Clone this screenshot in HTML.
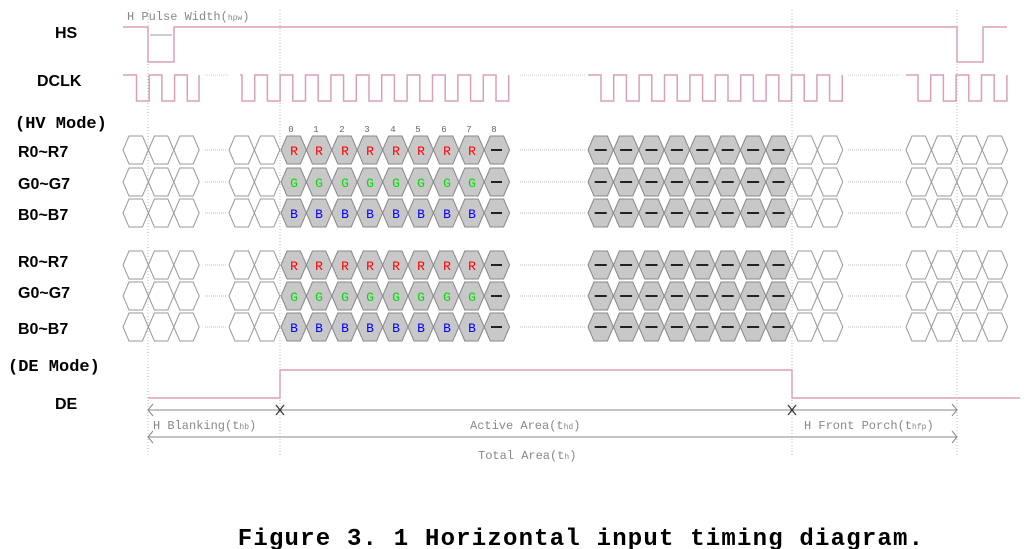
<!DOCTYPE html>
<html><head><meta charset="utf-8"><style>
body{margin:0;background:#fff}
svg{display:block}
.lb{font-family:"Liberation Sans",sans-serif;font-weight:bold;font-size:16px;fill:#000}
.md{font-family:"Liberation Mono",monospace;font-weight:bold;font-size:17px;fill:#000}
.sm{font-family:"Liberation Mono",monospace;font-size:12px;fill:#888}
.r{font-family:"Liberation Mono",monospace;font-size:13px;fill:#f00;text-anchor:middle}
.g{font-family:"Liberation Mono",monospace;font-size:13px;fill:#0d0;text-anchor:middle}
.b{font-family:"Liberation Mono",monospace;font-size:13px;fill:#00f;text-anchor:middle}
.n{font-family:"Liberation Mono",monospace;font-size:9px;fill:#666;text-anchor:middle}
</style></head><body>
<svg id="s" width="1030" height="549" viewBox="0 0 1030 549" xmlns="http://www.w3.org/2000/svg">
<g id="shapes"></g>
<text class="lb" x="55" y="38">HS</text>
<text class="lb" x="37" y="86">DCLK</text>
<text class="md" x="15" y="128">(HV Mode)</text>
<text class="lb" x="18" y="157">R0~R7</text>
<text class="lb" x="18" y="189">G0~G7</text>
<text class="lb" x="18" y="220">B0~B7</text>
<text class="lb" x="18" y="267">R0~R7</text>
<text class="lb" x="18" y="298">G0~G7</text>
<text class="lb" x="18" y="334">B0~B7</text>
<text class="md" x="8" y="371">(DE Mode)</text>
<text class="lb" x="55" y="409">DE</text>
<text class="sm" x="127" y="20" font-size="11">H Pulse Width(<tspan font-size="8">hpw</tspan>)</text>
<g>
<text class="n" x="291" y="132">0</text><text class="n" x="316" y="132">1</text><text class="n" x="342" y="132">2</text><text class="n" x="367" y="132">3</text><text class="n" x="393" y="132">4</text><text class="n" x="418" y="132">5</text><text class="n" x="444" y="132">6</text><text class="n" x="469" y="132">7</text><text class="n" x="494" y="132">8</text>
</g>
<g>
<text class="r" x="294" y="155">R</text><text class="r" x="319" y="155">R</text><text class="r" x="345" y="155">R</text><text class="r" x="370" y="155">R</text><text class="r" x="396" y="155">R</text><text class="r" x="421" y="155">R</text><text class="r" x="447" y="155">R</text><text class="r" x="472" y="155">R</text>
<text class="g" x="294" y="187">G</text><text class="g" x="319" y="187">G</text><text class="g" x="345" y="187">G</text><text class="g" x="370" y="187">G</text><text class="g" x="396" y="187">G</text><text class="g" x="421" y="187">G</text><text class="g" x="447" y="187">G</text><text class="g" x="472" y="187">G</text>
<text class="b" x="294" y="218">B</text><text class="b" x="319" y="218">B</text><text class="b" x="345" y="218">B</text><text class="b" x="370" y="218">B</text><text class="b" x="396" y="218">B</text><text class="b" x="421" y="218">B</text><text class="b" x="447" y="218">B</text><text class="b" x="472" y="218">B</text>
<text class="r" x="294" y="270">R</text><text class="r" x="319" y="270">R</text><text class="r" x="345" y="270">R</text><text class="r" x="370" y="270">R</text><text class="r" x="396" y="270">R</text><text class="r" x="421" y="270">R</text><text class="r" x="447" y="270">R</text><text class="r" x="472" y="270">R</text>
<text class="g" x="294" y="301">G</text><text class="g" x="319" y="301">G</text><text class="g" x="345" y="301">G</text><text class="g" x="370" y="301">G</text><text class="g" x="396" y="301">G</text><text class="g" x="421" y="301">G</text><text class="g" x="447" y="301">G</text><text class="g" x="472" y="301">G</text>
<text class="b" x="294" y="332">B</text><text class="b" x="319" y="332">B</text><text class="b" x="345" y="332">B</text><text class="b" x="370" y="332">B</text><text class="b" x="396" y="332">B</text><text class="b" x="421" y="332">B</text><text class="b" x="447" y="332">B</text><text class="b" x="472" y="332">B</text>
</g>
<text class="sm" x="153" y="429">H Blanking(t<tspan font-size="8">hb</tspan>)</text>
<text class="sm" x="470" y="429">Active Area(t<tspan font-size="8">hd</tspan>)</text>
<text class="sm" x="804" y="429">H Front Porch(t<tspan font-size="8">hfp</tspan>)</text>
<text class="sm" x="478" y="459">Total Area(t<tspan font-size="8">h</tspan>)</text>
<text x="581" y="545" text-anchor="middle" style="font-family:'Liberation Mono',monospace;font-weight:bold;font-size:24px;letter-spacing:1.2px">Figure 3. 1 Horizontal input timing diagram.</text>
</svg>
<script>
var g=document.getElementById('shapes'),NS='http://www.w3.org/2000/svg';
function el(t,a){var e=document.createElementNS(NS,t);for(var k in a)e.setAttribute(k,a[k]);g.appendChild(e);return e;}
var P='#d8a0b8';
[148,280,792,957].forEach(function(x){el('line',{x1:x,y1:10,x2:x,y2:455,stroke:'#bbb','stroke-dasharray':'1,2','stroke-width':1});});
el('polyline',{points:'123,27 148,27 148,62 174,62 174,27 957,27 957,62 983,62 983,27 1007,27',fill:'none',stroke:P,'stroke-width':1.5});
el('line',{x1:150,y1:35,x2:172,y2:35,stroke:'#999'});
function clk(x0,x1,f){var p=x0+',75 ',x=f;p+=x+',75 ';while(x<x1-1){var lo=Math.min(x+12.7,x1);p+=x+',101 '+lo+',101 '+lo+',75 ';x=lo;if(x>=x1-1)break;var hi=Math.min(x+12.7,x1);p+=hi+',75 ';x=hi;}el('polyline',{points:p,fill:'none',stroke:P,'stroke-width':1.5});}
clk(123,199,136.5);clk(240,509,242);clk(588,843,601);clk(906,1007,918);
[[205,228],[520,585],[848,900]].forEach(function(d){el('line',{x1:d[0],y1:75,x2:d[1],y2:75,stroke:'#ccc','stroke-dasharray':'1,1'});});
var W=25.4;
function hex(x,yc,fill){el('polygon',{points:x+','+yc+' '+(x+6)+','+(yc-14)+' '+(x+W-6)+','+(yc-14)+' '+(x+W)+','+yc+' '+(x+W-6)+','+(yc+14)+' '+(x+6)+','+(yc+14),fill:fill,stroke:fill=='#fff'?'#999':'#888','stroke-width':1});}
[150,182,213,265,296,327].forEach(function(y){
 [123,148.4,173.8,229,254.4,906,931.4,956.8,982.2,792,817.4].forEach(function(x){hex(x,y,'#fff');});
 for(var i=0;i<9;i++){hex(281+i*W,y,'#c8c8c8');}
 for(var i=0;i<8;i++){hex(588+i*W,y,'#c8c8c8');}
 el('line',{x1:491,y1:y,x2:502,y2:y,stroke:'#222','stroke-width':2});
 for(var i=0;i<8;i++){var cx=588+i*W+W/2;el('line',{x1:cx-6,y1:y,x2:cx+6,y2:y,stroke:'#222','stroke-width':2});}
 [[205,226],[520,585],[848,902]].forEach(function(d){el('line',{x1:d[0],y1:y,x2:d[1],y2:y,stroke:'#bbb','stroke-dasharray':'1,1'});});
});
el('polyline',{points:'148,398 280,398 280,370 792,370 792,398 1020,398',fill:'none',stroke:P,'stroke-width':1.5});
el('line',{x1:148,y1:410,x2:957,y2:410,stroke:'#888'});
el('line',{x1:148,y1:437,x2:957,y2:437,stroke:'#888'});
[410,437].forEach(function(y){el('polyline',{points:'153,'+(y-6)+' 148,'+y+' 153,'+(y+6),fill:'none',stroke:'#888'});el('polyline',{points:'952,'+(y-6)+' 957,'+y+' 952,'+(y+6),fill:'none',stroke:'#888'});});
[280,792].forEach(function(x){el('path',{d:'M'+(x-4)+',405 L'+(x+4)+',415 M'+(x+4)+',405 L'+(x-4)+',415',stroke:'#333','stroke-width':1.3});});
</script>
</body></html>
